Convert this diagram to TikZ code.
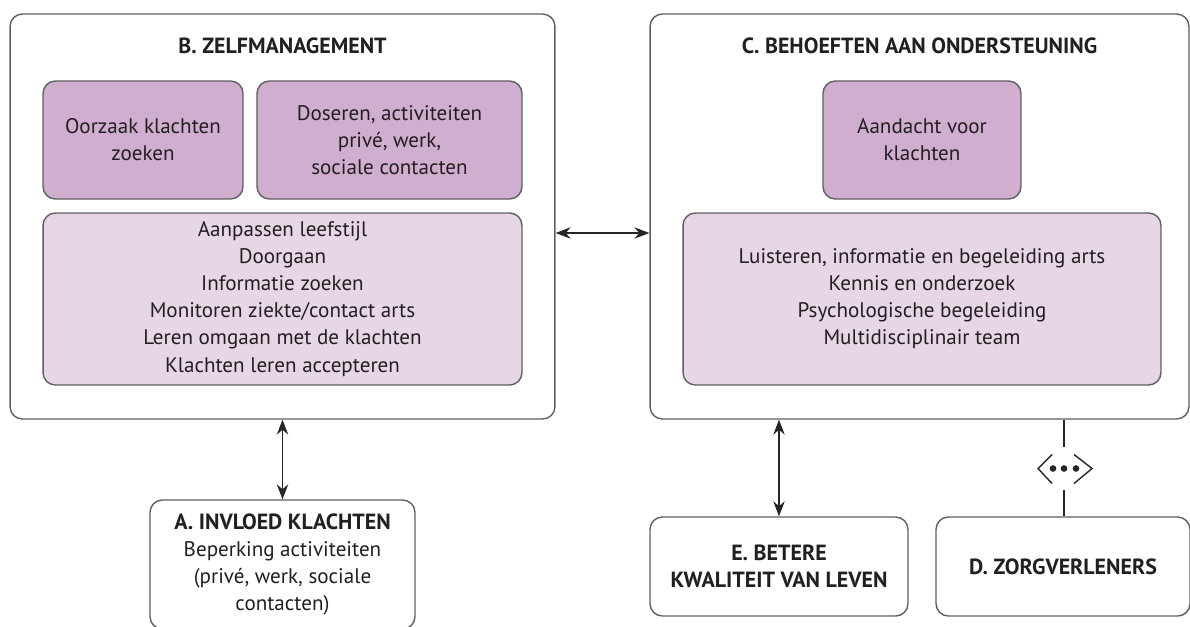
\documentclass[tikz,border=0pt]{standalone}
\usepackage{fontspec}
\setmainfont{PT Sans}
\usetikzlibrary{arrows.meta}
\definecolor{paars}{RGB}{207,174,207}
\definecolor{lichtpaars}{RGB}{230,214,230}
\definecolor{rand}{RGB}{95,95,95}
\definecolor{tekst}{RGB}{35,31,32}
\tikzset{
kader/.style={
		draw=rand,
		line width=0.8pt,
		rounded corners=7pt,
		fill=white,
		inner sep=0pt,
		align=center,
		text=tekst,
		font=\fontsize{12}{15.4}\selectfont
	},
blok/.style={
		kader,
		fill=paars
	},
lijst/.style={
		kader,
		fill=lichtpaars
	},
kop/.style={
		text=tekst,
		align=center,
		font=\fontsize{12.5}{15.4}\selectfont\bfseries
	},
pijl/.style={
		{Stealth[length=8.5pt,width=6.5pt]}-{Stealth[length=8.5pt,width=6.5pt]},
		line width=0.7pt,
		black!85
	}
}

\begin{document}
\begin{tikzpicture}[x=0.02cm,y=-0.02cm]
			\useasboundingbox (0,0) rectangle (1190,626);
			\clip (0,0) rectangle (1190,626);
			% groot kader links en rechts
			\node[kader, minimum width=10.9cm, minimum height=8.1cm] (zelf) at (282.5,216.5) {};
			\node[kader, minimum width=10.78cm, minimum height=8.1cm] (steun) at (919.5,216.5) {};
			\node[kop] (zelfkop) at (282.5,46) {B. ZELFMANAGEMENT};
			\node[kop] (steunkop) at (919.5,46) {C. BEHOEFTEN AAN ONDERSTEUNING};
			% blokken zelfmanagement
			\node[blok, minimum width=4cm, minimum height=2.36cm] (oorzaak) at (143,140) {Oorzaak klachten\\zoeken};
			\node[blok, minimum width=5.3cm, minimum height=2.36cm] (doseren) at (389.5,140) {Doseren, activiteiten\\priv\'e, werk,\\sociale contacten};
			\node[lijst, minimum width=9.58cm, minimum height=3.44cm] (aanpassen) at (282.5,299) {Aanpassen leefstijl\\Doorgaan\\Informatie zoeken\\Monitoren ziekte/contact arts\\Leren omgaan met de klachten\\Klachten leren accepteren};
			% blokken ondersteuning
			\node[blok, minimum width=3.96cm, minimum height=2.36cm] (aandacht) at (922,140) {Aandacht voor\\klachten};
			\node[lijst, minimum width=9.56cm, minimum height=3.44cm] (luisteren) at (922,299) {Luisteren, informatie en begeleiding arts\\Kennis en onderzoek\\Psychologische begeleiding\\Multidisciplinair team};
			% onderste kaders
			\node[kader, minimum width=5.3cm, minimum height=2.58cm] (invloed) at (282.5,564.5) {{\fontsize{12.5}{15.4}\selectfont\bfseries A. INVLOED KLACHTEN}\\Beperking activiteiten\\(priv\'e, werk, sociale\\contacten)};
			\node[kader, minimum width=5.16cm, minimum height=1.98cm, font=\fontsize{12.5}{15.4}\selectfont\bfseries] (leven) at (779,566.5) {E. BETERE\\KWALITEIT VAN LEVEN};
			\node[kader, minimum width=5.08cm, minimum height=1.98cm, font=\fontsize{12.5}{15.4}\selectfont\bfseries] (zorg) at (1063,566.5) {D. ZORGVERLENERS};
			\node[inner sep=0pt, minimum width=1.1cm, minimum height=0.86cm] (link) at (1064,468.5) {};
			% verbindingen
			\draw[pijl] ([yshift=-0.33cm]zelf.east) -- ([yshift=-0.33cm]steun.west);
			\draw[pijl] (zelf.south) -- (invloed.north);
			\draw[pijl] (steun.south -| leven.north) -- (leven.north);
			\draw[line width=0.7pt, black!85] (steun.south -| link.north) -- (link.north);
			\draw[line width=0.7pt, black!85] (link.south) -- (zorg.north -| link.south);
			\draw[line width=0.8pt, black!85] ([shift={(-12,-14)}]link.center) -- ([shift={(-26,0)}]link.center) -- ([shift={(-12,15)}]link.center);
			\draw[line width=0.8pt, black!85] ([shift={(10,-14)}]link.center) -- ([shift={(28,0)}]link.center) -- ([shift={(10,15)}]link.center);
			\foreach \dx in {-11,0,12} {
				\fill[black!85] ([shift={(\dx,0)}]link.center) circle (1.9pt);
			}
			\end{tikzpicture}
\end{document}
